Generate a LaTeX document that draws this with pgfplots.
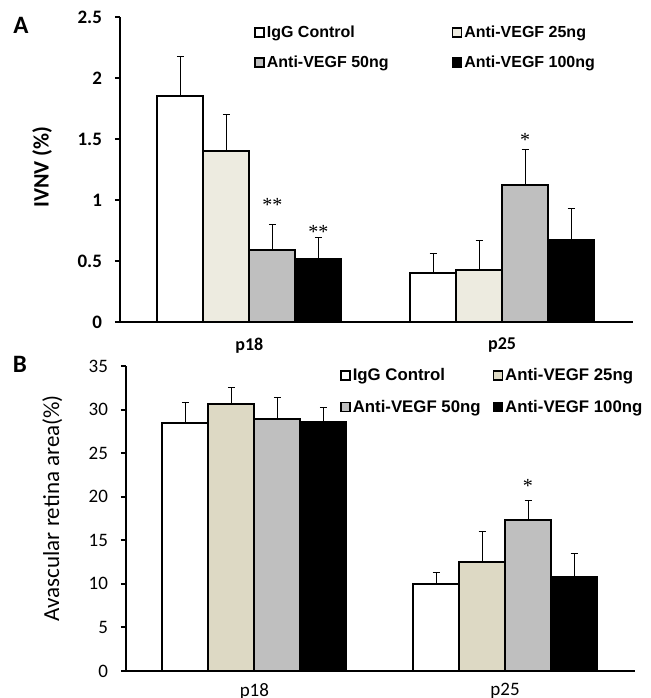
\documentclass[border=0pt]{standalone}
\usepackage{fontspec}
\usepackage{pgfplots}
\pgfplotsset{compat=1.18}
\newfontfamily\calfont{Carlito}
\newfontfamily\arl{Liberation Sans}
\newfontfamily\tms{Liberation Serif}
\definecolor{beigeA}{RGB}{237,235,224}
\definecolor{beigeB}{RGB}{221,217,196}
\definecolor{greyC}{RGB}{191,191,191}

\pgfplotsset{
  panel/.style={
    scale only axis, ybar=0pt, bar width=23pt,
    height=152.5pt, xmin=-0.512, xmax=1.518, ymin=0,
    axis x line=bottom, axis y line=left,
    axis line style={line width=1pt, -},
    xtick={0,1}, xticklabels={p18,p25},
    x tick style={draw=none},
    y tick style={line width=1pt, black},
    tick align=outside, major tick length=2.5pt,
    /pgf/number format/assume math mode=true,
    legend columns=2, legend cell align=left,
    legend image code/.code={\draw[#1,draw=black,line width=0.8pt] (0pt,-1.7pt) rectangle (4.5pt,2.8pt);},
    every axis plot/.append style={draw=black, line width=1pt},
    error bars/y dir=plus, error bars/y explicit,
    error bars/error bar style={line width=0.5pt, black},
    error bars/error mark options={line width=0.5pt, mark size=1.75pt, black, rotate=90},
  },
}

\begin{document}
\begin{tikzpicture}
\path[use as bounding box] (0,0) rectangle (325pt,349pt);

% panel A
\begin{axis}[panel, at={(60pt,188pt)}, anchor=south west,
    width=256.5pt, ymax=2.5, ytick={0,0.5,1,1.5,2,2.5},
    yticklabel style={font=\calfont\bfseries\fontsize{9.5}{10}\selectfont, xshift=-3pt},
    xticklabel style={font=\calfont\bfseries\fontsize{9}{10}\selectfont, yshift=-2pt},
    ylabel={IVNV (\%)},
    ylabel style={at={(axis description cs:-0.152,0.508)}, anchor=center,
        font=\calfont\bfseries\fontsize{11}{12}\selectfont},
    legend style={at={(0.261,0.98)}, anchor=north west, draw=none, fill=none,
        inner sep=0pt, row sep=5pt, font=\arl\bfseries\fontsize{8}{9}\selectfont,
        nodes={inner sep=1pt, text height=6pt, text depth=2pt},
        /tikz/every even column/.append style={column sep=30.5pt}},
  ]
  \addplot[fill=white] coordinates {(0,1.85) +- (0,0.33) (1,0.40) +- (0,0.16)};
  \addlegendentry{IgG Control}
  \addplot[fill=beigeA] coordinates {(0,1.40) +- (0,0.30) (1,0.43) +- (0,0.24)};
  \addlegendentry{Anti-VEGF 25ng}
  \addplot[fill=greyC] coordinates {(0,0.59) +- (0,0.21) (1,1.12) +- (0,0.29)};
  \addlegendentry{Anti-VEGF 50ng}
  \addplot[fill=black] coordinates {(0,0.52) +- (0,0.17) (1,0.67) +- (0,0.26)};
  \addlegendentry{Anti-VEGF 100ng}
  \node[font=\tms\fontsize{10}{10}\selectfont] at (axis cs:0.091,0.96) {**};
  \node[font=\tms\fontsize{10}{10}\selectfont] at (axis cs:0.273,0.74) {**};
  \node[font=\tms\fontsize{10}{10}\selectfont] at (axis cs:1.091,1.49) {*};
\end{axis}

% panel B
\begin{axis}[panel, at={(63pt,13.5pt)}, anchor=south west,
    width=254.5pt, ymax=35, ytick={0,5,...,35},
    yticklabel style={font=\calfont\fontsize{9.5}{10}\selectfont, xshift=-3pt},
    xticklabel style={font=\calfont\fontsize{9.5}{10}\selectfont, yshift=0pt},
    ylabel={Avascular retina area(\%)},
    ylabel style={at={(axis description cs:-0.145,0.534)}, anchor=center,
        font=\calfont\fontsize{11.5}{13}\selectfont},
    legend style={at={(0.42,1.0)}, anchor=north west, draw=none, fill=none,
        inner sep=0pt, row sep=5.5pt, font=\arl\bfseries\fontsize{8.4}{9}\selectfont,
        nodes={inner sep=1pt, text height=6.2pt, text depth=2pt},
        /tikz/every even column/.append style={column sep=5pt}},
  ]
  \addplot[fill=white] coordinates {(0,28.5) +- (0,2.3) (1,10.0) +- (0,1.3)};
  \addlegendentry{IgG Control}
  \addplot[fill=beigeB] coordinates {(0,30.6) +- (0,1.9) (1,12.5) +- (0,3.5)};
  \addlegendentry{Anti-VEGF 25ng}
  \addplot[fill=greyC] coordinates {(0,28.9) +- (0,2.5) (1,17.3) +- (0,2.3)};
  \addlegendentry{Anti-VEGF 50ng}
  \addplot[fill=black] coordinates {(0,28.6) +- (0,1.6) (1,10.8) +- (0,2.7)};
  \addlegendentry{Anti-VEGF 100ng}
  \node[font=\tms\fontsize{10}{10}\selectfont] at (axis cs:1.091,21.2) {*};
\end{axis}

\node[font=\calfont\bfseries\fontsize{12.5}{12}\selectfont] at (10.5pt,336.5pt) {A};
\node[font=\calfont\bfseries\fontsize{12.5}{12}\selectfont] at (10pt,167pt) {B};
\end{tikzpicture}
\end{document}
